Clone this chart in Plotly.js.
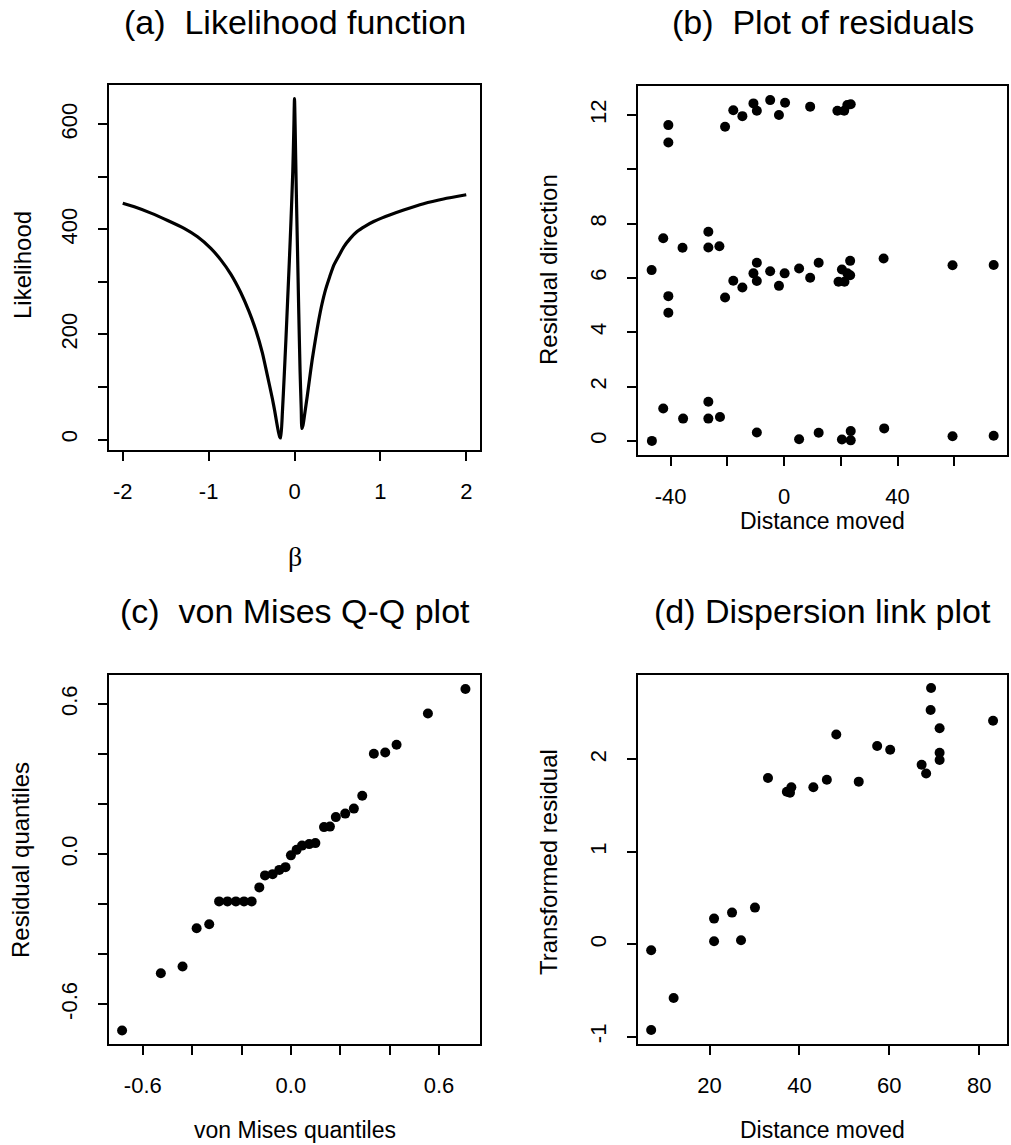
<!DOCTYPE html>
<html><head><meta charset="utf-8">
<script src="https://cdn.plot.ly/plotly-3.0.1.min.js"></script>
<style>html,body{margin:0;padding:0;background:#fff}</style>
</head><body><div id="chart" style="width:1011px;height:1145px"></div>
<script>
// (a) Likelihood function
const likBeta = [-2.000,-1.865,-1.671,-1.477,-1.285,-1.129,-0.974,-0.858,-0.742,-0.626,-0.530,-0.452,-0.374,-0.316,-0.258,-0.230,-0.208,-0.185,-0.172,-0.161,-0.140,-0.120,-0.100,-0.080,-0.060,-0.040,-0.020,-0.008,0.000,0.008,0.020,0.035,0.050,0.065,0.078,0.086,0.100,0.120,0.148,0.175,0.206,0.245,0.283,0.320,0.361,0.410,0.458,0.520,0.574,0.650,0.729,0.820,0.922,1.020,1.116,1.271,1.503,1.735,2.000];
const likValue = [450,443,431,417,402,386,364,342,315,280,244,209,165,122,78,54,33,13,5,3,55,120,190,265,340,420,510,590,649,590,480,360,240,130,60,21,28,50,82,115,152,192,228,258,285,310,332,351,367,383,396,406,415,422,428,437,449,458,466];

// (b) Plot of residuals
const resDist = [-40.8,-40.8,-20.8,-17.9,-14.7,-10.8,-9.6,-4.9,-1.8,0.35,9.2,18.8,21.2,22.3,23.5,
  -46.7,-42.6,-40.8,-40.8,-35.8,-26.7,-26.7,-22.8,-20.8,-17.9,-14.7,-10.8,-9.6,-9.6,-4.9,-1.8,0.2,5.3,9.2,12.2,19.2,20.4,21.3,22.3,23.3,23.3,35.1,59.4,73.9,
  -46.6,-42.6,-35.6,-26.7,-26.7,-22.6,-9.6,5.3,12.2,20.4,23.5,23.5,35.3,59.4,73.9];
const resDir = [11.63,10.99,11.57,12.18,11.96,12.43,12.16,12.55,12.0,12.45,12.31,12.16,12.16,12.37,12.40,
  6.29,7.46,5.33,4.72,7.11,7.70,7.12,7.17,5.28,5.90,5.65,6.17,6.56,5.89,6.25,5.71,6.17,6.35,6.01,6.56,5.86,6.31,5.86,6.17,6.63,6.10,6.72,6.47,6.48,
  0.00,1.19,0.82,1.44,0.82,0.88,0.31,0.06,0.30,0.05,0.36,0.02,0.46,0.17,0.19];

// (c) von Mises Q-Q plot
const qqTheo = [-0.684,-0.527,-0.439,-0.382,-0.331,-0.291,-0.257,-0.223,-0.190,-0.159,-0.128,-0.105,-0.074,-0.047,-0.022,0.000,0.023,0.045,0.074,0.099,0.134,0.158,0.182,0.220,0.255,0.289,0.336,0.382,0.428,0.555,0.707];
const qqResid = [-0.705,-0.476,-0.449,-0.296,-0.280,-0.189,-0.189,-0.189,-0.189,-0.189,-0.133,-0.085,-0.080,-0.063,-0.052,-0.005,0.017,0.034,0.040,0.044,0.108,0.110,0.148,0.162,0.182,0.233,0.401,0.406,0.437,0.562,0.660];

// (d) Dispersion link plot
const dispDist = [7.0,7.0,12.0,21.0,21.0,25.0,27.0,30.1,33.0,37.2,37.9,38.2,43.1,46.1,48.2,53.2,57.3,60.2,67.2,68.2,69.3,69.2,71.2,71.2,71.2,83.1];
const dispResid = [-0.928,-0.065,-0.581,0.033,0.278,0.343,0.043,0.397,1.80,1.65,1.64,1.70,1.70,1.78,2.27,1.76,2.145,2.105,1.943,1.849,2.774,2.535,2.337,2.073,1.994,2.419];

// tick labels
const tickA_x = [-2,-1,0,1,2], tickA_xText = ['-2','-1','0','1','2'];
const tickA_y = [0,100,200,300,400,500,600], tickA_yText = ['0','','200','','400','','600'];
const tickB_x = [-40,-20,0,20,40,60], tickB_xText = ['-40','','0','','40',''];
const tickB_y = [0,2,4,6,8,10,12], tickB_yText = ['0','2','4','6','8','','12'];
const tickC = [-0.6,-0.4,-0.2,0,0.2,0.4,0.6], tickC_text = ['-0.6','','','0.0','','','0.6'];
const tickD_x = [20,40,60,80], tickD_xText = ['20','40','60','80'];
const tickD_y = [-1,0,1,2], tickD_yText = ['-1','0','1','2'];

const F = 'Liberation Sans, Arial, Helvetica, sans-serif';
const W = 1011, H = 1145;
const px = v => v / W, py = v => 1 - v / H;

const base = {showline:true, mirror:true, linecolor:'#000', linewidth:2, ticks:'outside', ticklen:9,
  tickwidth:2, tickcolor:'#000', showgrid:false, zeroline:false, automargin:false,
  tickfont:{family:F, size:22, color:'#000'}};
const xa = (dom, anchor, rng, tv, tt) => Object.assign({}, base, {domain:dom, anchor:anchor, range:rng,
  tickmode:'array', tickvals:tv, ticktext:tt, ticklabelstandoff:12});
const ya = (dom, anchor, rng, tv, tt) => Object.assign({}, base, {domain:dom, anchor:anchor, range:rng,
  tickmode:'array', tickvals:tv, ticktext:tt, tickangle:-90, ticklabelstandoff:12});

const mk = {color:'#000', size:10};
const data = [
  {x:likBeta, y:likValue, xaxis:'x', yaxis:'y', mode:'lines', line:{color:'#000', width:3.2, shape:'spline', smoothing:0.6}, hoverinfo:'skip'},
  {x:resDist, y:resDir, xaxis:'x2', yaxis:'y2', mode:'markers', marker:mk},
  {x:qqTheo, y:qqResid, xaxis:'x3', yaxis:'y3', mode:'markers', marker:mk},
  {x:dispDist, y:dispResid, xaxis:'x4', yaxis:'y4', mode:'markers', marker:mk}
];

const colL = [px(109), px(480)], colR = [px(638), px(1007)];
const rowT = [py(450), py(85)], rowTb = [py(455), py(86)], rowB = [py(1044), py(675)];

const ann = (text, x, y, size, angle, fam) => ({text:text, x:px(x), y:py(y), xref:'paper', yref:'paper',
  xanchor:'center', yanchor:'middle', showarrow:false, textangle:angle||0,
  font:{family:fam||F, size:size, color:'#000'}});

const layout = {
  width:W, height:H, margin:{l:0,r:0,t:0,b:0}, paper_bgcolor:'#fff', plot_bgcolor:'#fff', showlegend:false,
  xaxis: xa(colL, 'y', [-2.16, 2.16], tickA_x, tickA_xText),
  yaxis: ya(rowT, 'x', [-20, 675], tickA_y, tickA_yText),
  xaxis2: xa(colR, 'y2', [-51.5, 78.6], tickB_x, tickB_xText),
  yaxis2: ya(rowTb, 'x2', [-0.52, 13.07], tickB_y, tickB_yText),
  xaxis3: xa(colL, 'y3', [-0.737, 0.766], tickC, tickC_text),
  yaxis3: ya(rowB, 'x3', [-0.759, 0.716], tickC, tickC_text),
  xaxis4: xa(colR, 'y4', [4.07, 86.2], tickD_x, tickD_xText),
  yaxis4: ya(rowB, 'x4', [-1.079, 2.914], tickD_y, tickD_yText),
  annotations: [
    ann('(a)\u00a0 Likelihood function', 294.5, 22, 34),
    ann('(b)\u00a0 Plot of residuals', 822.5, 22, 34),
    ann('(c)\u00a0 von Mises Q-Q plot', 294.5, 611, 34),
    ann('(d) Dispersion link plot', 822.5, 611, 34),
    ann('Likelihood', 22, 265, 24, -90),
    ann('\u03b2', 294.5, 556, 28, 0, 'Liberation Serif, DejaVu Serif, serif'),
    ann('Residual direction', 548, 270, 24, -90),
    ann('Distance moved', 822.5, 521, 23),
    ann('Residual quantiles', 20, 860, 24, -90),
    ann('von Mises quantiles', 294.5, 1130, 23),
    ann('Transformed residual', 548, 862, 24, -90),
    ann('Distance moved', 822.5, 1130, 23)
  ]
};
Plotly.newPlot('chart', data, layout, {staticPlot:true, displayModeBar:false});
</script></body></html>
